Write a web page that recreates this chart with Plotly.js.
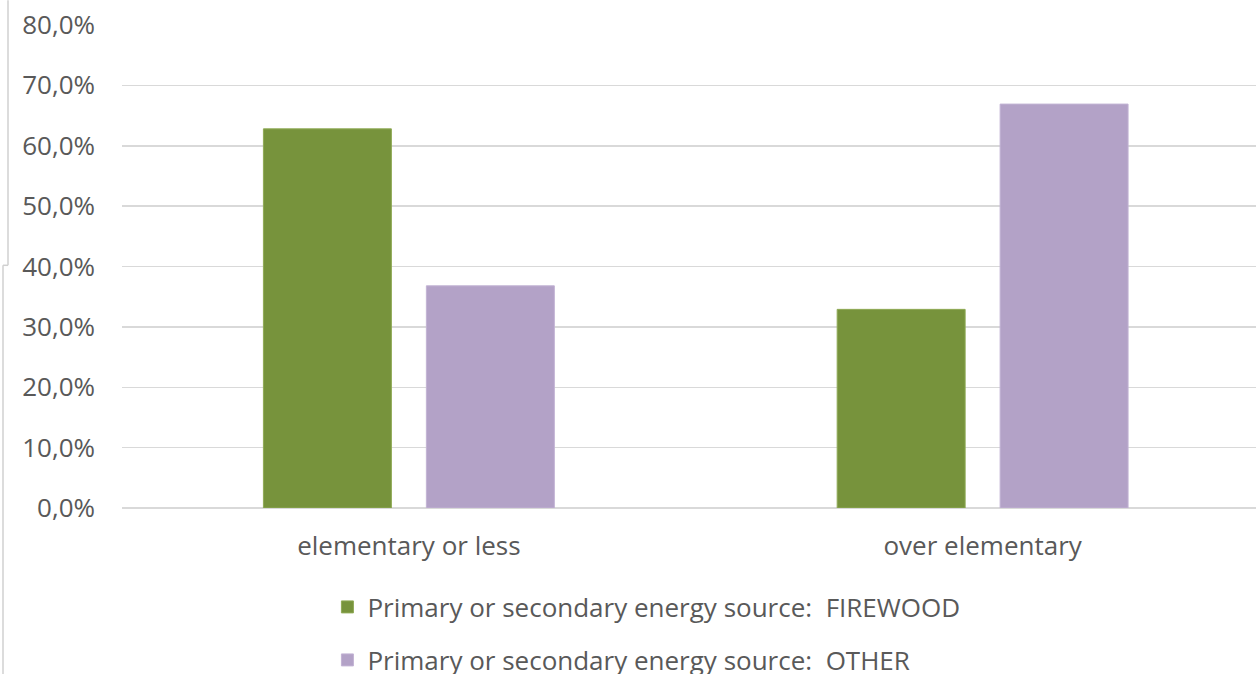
<!DOCTYPE html>
<html>
<head>
<meta charset="utf-8">
<script src="https://cdn.plot.ly/plotly-3.0.1.min.js"></script>
<style>html,body{margin:0;padding:0;background:#fff;}#chart{width:1256px;height:674px;}</style>
</head>
<body>
<div id="chart"></div>
<script>
var categories = ["elementary or less", "over elementary"];
var seriesNames = ["Primary or secondary energy source:\u00a0\u00a0FIREWOOD", "Primary or secondary energy source:\u00a0\u00a0OTHER"];
var firewood = [62.8, 32.9];
var other = [36.8, 66.9];
var yTicks = [0, 10, 20, 30, 40, 50, 60, 70, 80];
var yTickText = yTicks.map(function(v){ return v.toFixed(1).replace(".", ",") + "%"; });

var W = 1256, H = 674;
var plotL = 121.5, plotT = 25.3, plotB = 507.7;
var plotW = W - plotL, plotH = plotB - plotT;
var catPx = 574;
function px2paperX(px){ return (px - plotL) / plotW; }
function px2contY(py){ return (H - py) / H; }

var font = {family: "Open Sans, sans-serif", size: 26, color: "#595959"};

var traces = [
  {type: "bar", x: categories, y: firewood, name: seriesNames[0], marker: {color: "#77933c", line: {color: "#8faa55", width: 1}}, legend: "legend", hoverinfo: "skip"},
  {type: "bar", x: categories, y: other, name: seriesNames[1], marker: {color: "#b3a2c7", line: {color: "#c2b3d4", width: 1}}, legend: "legend2", hoverinfo: "skip"}
];

var layout = {
  width: W, height: H,
  margin: {l: plotL, r: 0, t: plotT, b: H - plotB, pad: 0, autoexpand: false},
  paper_bgcolor: "#ffffff", plot_bgcolor: "#ffffff",
  font: font,
  barmode: "group",
  bargap: 0.432,
  bargroupgap: 0.2147,
  xaxis: {
    type: "category",
    range: [-0.5, -0.5 + plotW / catPx],
    showgrid: false, zeroline: false, showline: false,
    ticks: "", tickfont: font, ticklabelstandoff: 20
  },
  yaxis: {
    range: [0, 80], tickmode: "array", tickvals: yTicks, ticktext: yTickText,
    showgrid: true, gridcolor: "#d9d9d9", gridwidth: 1.5,
    zeroline: true, zerolinecolor: "#d9d9d9", zerolinewidth: 1.5,
    showline: false, ticks: "", tickfont: font, ticklabelstandoff: 26
  },
  legend: {
    xref: "paper", yref: "container",
    x: px2paperX(327), y: px2contY(607), xanchor: "left", yanchor: "middle",
    font: font, bgcolor: "rgba(0,0,0,0)", borderwidth: 0
  },
  legend2: {
    xref: "paper", yref: "container",
    x: px2paperX(327), y: px2contY(660), xanchor: "left", yanchor: "middle",
    font: font, bgcolor: "rgba(0,0,0,0)", borderwidth: 0
  },
  showlegend: true,
  shapes: [
    {type: "line", xref: "paper", yref: "paper", xsizemode: "pixel", ysizemode: "pixel", xanchor: 0, yanchor: 0,
     x0: 7.5 - plotL, x1: 7.5 - plotL, y0: plotB - 0, y1: plotB - 265, line: {color: "#d0d0d0", width: 1.5}},
    {type: "line", xref: "paper", yref: "paper", xsizemode: "pixel", ysizemode: "pixel", xanchor: 0, yanchor: 0,
     x0: 7.5 - plotL, x1: 2.5 - plotL, y0: plotB - 265, y1: plotB - 265, line: {color: "#d0d0d0", width: 1.5}},
    {type: "line", xref: "paper", yref: "paper", xsizemode: "pixel", ysizemode: "pixel", xanchor: 0, yanchor: 0,
     x0: 2.5 - plotL, x1: 2.5 - plotL, y0: plotB - 265, y1: plotB - 674, line: {color: "#d0d0d0", width: 1.5}}
  ]
};

Plotly.newPlot("chart", traces, layout, {displayModeBar: false, staticPlot: true});
</script>
</body>
</html>
